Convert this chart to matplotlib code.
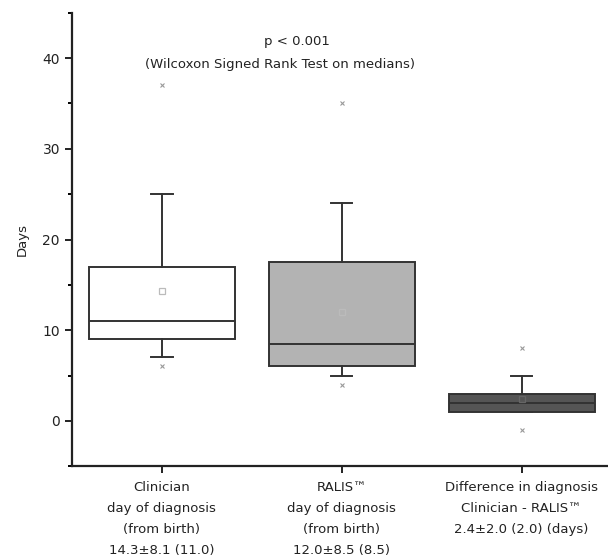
import matplotlib.pyplot as plt
from matplotlib.ticker import MultipleLocator

# box summary values (days)
labels = ["Clinician\nday of diagnosis\n(from birth)\n14.3\u00b18.1 (11.0)",
          "RALIS\u2122\nday of diagnosis\n(from birth)\n12.0\u00b18.5 (8.5)",
          "Difference in diagnosis\nClinician - RALIS\u2122\n2.4\u00b12.0 (2.0) (days)"]
q1 = [9, 6, 1]
med = [11, 8.5, 2]
q3 = [17, 17.5, 3]
whislo = [7, 5, 1]
whishi = [25, 24, 5]
means = [14.3, 12.0, 2.4]
fliers = [[37, 6], [35, 4], [8, -1]]
colors = ["#ffffff", "#b3b3b3", "#555555"]

stats = []
for i in range(3):
    stats.append(dict(med=med[i], q1=q1[i], q3=q3[i], whislo=whislo[i],
                      whishi=whishi[i], mean=means[i], fliers=fliers[i], label=""))

fig = plt.figure(figsize=(6.08, 5.57), dpi=100)
ax = fig.add_axes([0.118, 0.163, 0.882, 0.814])

bp = ax.bxp(stats, positions=[1, 2, 3], widths=0.81, patch_artist=True,
            showmeans=True,
            boxprops=dict(edgecolor="#333333", linewidth=1.4),
            medianprops=dict(color="#333333", linewidth=1.4),
            whiskerprops=dict(color="#333333", linewidth=1.4),
            capprops=dict(color="#333333", linewidth=1.4),
            capwidths=0.12,
            flierprops=dict(marker="x", markersize=3.5, markeredgecolor="#999999",
                            markeredgewidth=0.8),
            meanprops=dict(marker="s", markersize=5, markerfacecolor="none",
                           markeredgecolor="#bbbbbb", markeredgewidth=0.9))
for patch, c in zip(bp["boxes"], colors):
    patch.set_facecolor(c)
bp["means"][2].set_markeredgecolor("#666666")

ax.set_xlim(0.5, 3.48)
ax.set_ylim(-5, 45)
ax.set_xticks([1, 2, 3])
ax.yaxis.set_major_locator(MultipleLocator(10))
ax.yaxis.set_minor_locator(MultipleLocator(5))
ax.tick_params(axis="both", direction="out", width=1.4, length=5, colors="#222222")
ax.tick_params(axis="y", labelsize=10)
ax.tick_params(axis="y", which="minor", direction="out", width=1.4, length=3)
ax.tick_params(axis="x", pad=6, labelsize=9.5)
ax.set_xticklabels(labels, fontsize=9.5, color="#222222", linespacing=1.8)
ax.set_ylabel("Days", fontsize=9.5, color="#222222", labelpad=10)
for s in ["top", "right"]:
    ax.spines[s].set_visible(False)
for s in ["left", "bottom"]:
    ax.spines[s].set_linewidth(1.6)
    ax.spines[s].set_color("#222222")

ax.text(1.75, 41.8, "p < 0.001", ha="center", va="center", fontsize=9.5, color="#222222")
ax.text(1.66, 39.3, "(Wilcoxon Signed Rank Test on medians)", ha="center", va="center",
        fontsize=9.5, color="#222222")

fig.savefig("out.png", dpi=100)
